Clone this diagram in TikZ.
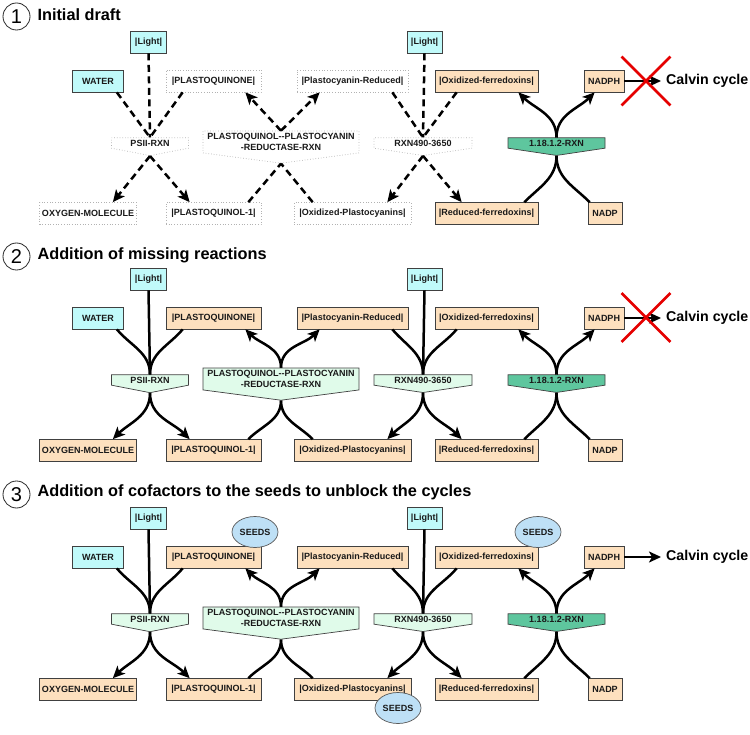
\documentclass[tikz,border=0pt]{standalone}
\usepackage{fontspec}
\setmainfont{Liberation Sans}
\usetikzlibrary{arrows.meta,shapes.symbols,shapes.geometric,shapes.misc}

\definecolor{lightcyan}{RGB}{192,250,250}
\definecolor{peach}{RGB}{253,224,190}
\definecolor{mint}{RGB}{224,251,234}
\definecolor{enzteal}{RGB}{94,198,158}
\definecolor{seedblue}{RGB}{190,224,246}

\begin{document}
\begin{tikzpicture}[
    x=1pt, y=-1pt,
    font=\fontsize{9}{10.8}\selectfont\bfseries,
    cpd/.style={
        draw=black!75,
        fill=#1,
        line width=0.7pt,
        minimum height=22pt,
        inner sep=2pt,
        text=black!90
    },
    newcpd/.style={
        cpd=white,
        draw=gray!60,
        dotted
    },
    rxn/.style={
        signal,
        signal to=south,
        draw=black!75,
        fill=#1,
        line width=0.7pt,
        minimum height=14pt,
        inner sep=2pt,
        text=black!90
    },
    newrxn/.style={
        rxn=white,
        draw=gray!60,
        dotted
    },
    flow/.style={line width=2.5pt, draw=black},
    prod/.style={flow, -{Stealth[length=12pt, width=11pt, inset=3pt]}},
    draft/.style={dash pattern=on 7pt off 4.5pt},
    seed/.style={
        ellipse,
        draw=black!65,
        fill=seedblue,
        line width=0.7pt,
        minimum width=46pt,
        minimum height=31pt,
        inner sep=0pt,
        text=black!90
    },
    blocked/.style={
        cross out,
        draw=red!90!black,
        line width=2.8pt,
        minimum width=46pt,
        minimum height=46pt
    },
    calvin/.style={anchor=west, inner sep=5pt, font=\fontsize{14.2}{16}\selectfont\bfseries},
    title/.style={anchor=west, font=\fontsize{16.3}{19}\selectfont\bfseries},
    num/.style={circle, draw=black!85, line width=0.8pt, minimum size=27pt, inner sep=0pt, font=\fontsize{20}{20}\selectfont}
]
\useasboundingbox (0,0) rectangle (750,735);

% panel 1: initial draft
\begin{scope}[name prefix=a-]
\node[num] (num) at (16.5,16.5) {1};
\node[title] (title) at (34,15) {Initial draft};

\node[cpd=lightcyan, minimum width=36pt] (light) at (148.5,42) {|Light|};
\node[cpd=lightcyan, minimum width=51pt] (water) at (98,81) {WATER};
\node[newcpd, minimum width=95pt] (pq) at (213.5,81) {|PLASTOQUINONE|};
\node[newcpd, minimum width=111pt] (pcr) at (352.5,81) {|Plastocyanin-Reduced|};
\node[cpd=lightcyan, minimum width=35pt] (light2) at (424.5,42) {|Light|};
\node[cpd=peach, minimum width=103pt] (oxf) at (486.5,81) {|Oxidized-ferredoxins|};
\node[cpd=peach, minimum width=40pt] (nadph) at (604,81) {NADPH};
\node[calvin] (calvin) at (661,81) {Calvin cycle};

\node[newrxn, minimum width=77pt, signal pointer angle=158] (psii) at (150,143) {PSII-RXN};
\node[newrxn, minimum width=156pt, minimum height=28pt, signal pointer angle=165, align=center, font=\fontsize{9}{11.5}\selectfont\bfseries] (pqrxn) at (281,142) {PLASTOQUINOL-{}-PLASTOCYANIN\\-REDUCTASE-RXN};
\node[newrxn, minimum width=98pt, signal pointer angle=163] (rxn490) at (423,143) {RXN490-3650};
\node[rxn=enzteal, minimum width=97pt, signal pointer angle=163] (fdrxn) at (556.5,143) {1.18.1.2-RXN};

\node[newcpd, minimum width=97pt] (oxy) at (88,213.5) {OXYGEN-MOLECULE};
\node[newcpd, minimum width=95pt] (pq1) at (213.5,213.5) {|PLASTOQUINOL-1|};
\node[newcpd, minimum width=117pt] (oxpc) at (352.5,213.5) {|Oxidized-Plastocyanins|};
\node[cpd=peach, minimum width=103pt] (redf) at (486.5,213.5) {|Reduced-ferredoxins|};
\node[cpd=peach, minimum width=34pt] (nadp) at (605,213.5) {NADP};

\draw[flow, draft] (light.south) -- (psii.north);
\draw[flow, draft] ([xshift=-7pt]water.south east) -- (psii.north);
\draw[flow, draft] ([xshift=17pt]pq.south west) -- (psii.north);
\draw[prod, draft] (psii.south) -- ([xshift=-24pt]oxy.north east);
\draw[prod, draft] (psii.south) -- ([xshift=24pt]pq1.north west);
\draw[prod, draft] (pqrxn.north) -- ([xshift=-16pt]pq.south east);
\draw[prod, draft] (pqrxn.north) -- ([xshift=23pt]pcr.south west);
\draw[flow, draft] ([xshift=-13pt]pq1.north east) -- (pqrxn.south);
\draw[flow, draft] ([xshift=19pt]oxpc.north west) -- (pqrxn.south);
\draw[flow, draft] (light2.south) -- (rxn490.north);
\draw[flow, draft] ([xshift=-16pt]pcr.south east) -- (rxn490.north);
\draw[flow, draft] ([xshift=22pt]oxf.south west) -- (rxn490.north);
\draw[prod, draft] (rxn490.south) -- ([xshift=-24pt]oxpc.north east);
\draw[prod, draft] (rxn490.south) -- ([xshift=27pt]redf.north west);
\draw[prod] (fdrxn.north) to[out=90, in=-45] ([xshift=-20pt]oxf.south east);
\draw[prod] (fdrxn.north) to[out=90, in=-135] ([xshift=11pt]nadph.south west);
\draw[flow] ([xshift=-14pt]redf.north east) to[out=45, in=-90] (fdrxn.south);
\draw[flow] ([xshift=2pt]nadp.north west) to[out=135, in=-90] (fdrxn.south);
\draw[prod] (nadph) -- (calvin);

\node[blocked] (block) at (646,81) {};
\end{scope}

% panel 2: missing reactions added
\begin{scope}[shift={(0,237)}, name prefix=b-]
\node[num] (num) at (16.5,19.5) {2};
\node[title] (title) at (34,18) {Addition of missing reactions};

\node[cpd=lightcyan, minimum width=36pt] (light) at (148.5,42) {|Light|};
\node[cpd=lightcyan, minimum width=51pt] (water) at (98,81) {WATER};
\node[cpd=peach, minimum width=95pt] (pq) at (213.5,81) {|PLASTOQUINONE|};
\node[cpd=peach, minimum width=111pt] (pcr) at (352.5,81) {|Plastocyanin-Reduced|};
\node[cpd=lightcyan, minimum width=35pt] (light2) at (424.5,42) {|Light|};
\node[cpd=peach, minimum width=103pt] (oxf) at (486.5,81) {|Oxidized-ferredoxins|};
\node[cpd=peach, minimum width=40pt] (nadph) at (604,81) {NADPH};
\node[calvin] (calvin) at (661,81) {Calvin cycle};

\node[rxn=mint, minimum width=77pt, signal pointer angle=158] (psii) at (150,143) {PSII-RXN};
\node[rxn=mint, minimum width=156pt, minimum height=28pt, signal pointer angle=165, align=center, font=\fontsize{9}{11.5}\selectfont\bfseries] (pqrxn) at (281,142) {PLASTOQUINOL-{}-PLASTOCYANIN\\-REDUCTASE-RXN};
\node[rxn=mint, minimum width=98pt, signal pointer angle=163] (rxn490) at (423,143) {RXN490-3650};
\node[rxn=enzteal, minimum width=97pt, signal pointer angle=163] (fdrxn) at (556.5,143) {1.18.1.2-RXN};

\node[cpd=peach, minimum width=97pt] (oxy) at (88,213.5) {OXYGEN-MOLECULE};
\node[cpd=peach, minimum width=95pt] (pq1) at (213.5,213.5) {|PLASTOQUINOL-1|};
\node[cpd=peach, minimum width=117pt] (oxpc) at (352.5,213.5) {|Oxidized-Plastocyanins|};
\node[cpd=peach, minimum width=103pt] (redf) at (486.5,213.5) {|Reduced-ferredoxins|};
\node[cpd=peach, minimum width=34pt] (nadp) at (605,213.5) {NADP};

\draw[flow] (light.south) -- (psii.north);
\draw[flow] ([xshift=-7pt]water.south east) to[out=-50, in=90] (psii.north);
\draw[flow] ([xshift=17pt]pq.south west) to[out=-130, in=90] (psii.north);
\draw[prod] (psii.south) to[out=-90, in=45] ([xshift=-24pt]oxy.north east);
\draw[prod] (psii.south) to[out=-90, in=135] ([xshift=24pt]pq1.north west);
\draw[prod] (pqrxn.north) to[out=90, in=-45] ([xshift=-16pt]pq.south east);
\draw[prod] (pqrxn.north) to[out=90, in=-135] ([xshift=23pt]pcr.south west);
\draw[flow] ([xshift=-13pt]pq1.north east) to[out=45, in=-90] (pqrxn.south);
\draw[flow] ([xshift=19pt]oxpc.north west) to[out=135, in=-90] (pqrxn.south);
\draw[flow] (light2.south) -- (rxn490.north);
\draw[flow] ([xshift=-16pt]pcr.south east) to[out=-50, in=90] (rxn490.north);
\draw[flow] ([xshift=22pt]oxf.south west) to[out=-130, in=90] (rxn490.north);
\draw[prod] (rxn490.south) to[out=-90, in=45] ([xshift=-24pt]oxpc.north east);
\draw[prod] (rxn490.south) to[out=-90, in=135] ([xshift=27pt]redf.north west);
\draw[prod] (fdrxn.north) to[out=90, in=-45] ([xshift=-20pt]oxf.south east);
\draw[prod] (fdrxn.north) to[out=90, in=-135] ([xshift=11pt]nadph.south west);
\draw[flow] ([xshift=-14pt]redf.north east) to[out=45, in=-90] (fdrxn.south);
\draw[flow] ([xshift=2pt]nadp.north west) to[out=135, in=-90] (fdrxn.south);
\draw[prod] (nadph) -- (calvin);

\node[blocked] (block) at (646,80.5) {};
\end{scope}

% panel 3: cofactors added to the seeds
\begin{scope}[shift={(0,476)}, name prefix=c-]
\node[num] (num) at (16.5,18.5) {3};
\node[title] (title) at (34,16) {Addition of cofactors to the seeds to unblock the cycles};

\node[cpd=lightcyan, minimum width=36pt] (light) at (148.5,42) {|Light|};
\node[cpd=lightcyan, minimum width=51pt] (water) at (98,81) {WATER};
\node[cpd=peach, minimum width=95pt] (pq) at (213.5,81) {|PLASTOQUINONE|};
\node[cpd=peach, minimum width=111pt] (pcr) at (352.5,81) {|Plastocyanin-Reduced|};
\node[cpd=lightcyan, minimum width=35pt] (light2) at (424.5,42) {|Light|};
\node[cpd=peach, minimum width=103pt] (oxf) at (486.5,81) {|Oxidized-ferredoxins|};
\node[cpd=peach, minimum width=40pt] (nadph) at (604,81) {NADPH};
\node[calvin] (calvin) at (661,81) {Calvin cycle};

\node[rxn=mint, minimum width=77pt, signal pointer angle=158] (psii) at (150,143) {PSII-RXN};
\node[rxn=mint, minimum width=156pt, minimum height=28pt, signal pointer angle=165, align=center, font=\fontsize{9}{11.5}\selectfont\bfseries] (pqrxn) at (281,142) {PLASTOQUINOL-{}-PLASTOCYANIN\\-REDUCTASE-RXN};
\node[rxn=mint, minimum width=98pt, signal pointer angle=163] (rxn490) at (423,143) {RXN490-3650};
\node[rxn=enzteal, minimum width=97pt, signal pointer angle=163] (fdrxn) at (556.5,143) {1.18.1.2-RXN};

\node[cpd=peach, minimum width=97pt] (oxy) at (88,213.5) {OXYGEN-MOLECULE};
\node[cpd=peach, minimum width=95pt] (pq1) at (213.5,213.5) {|PLASTOQUINOL-1|};
\node[cpd=peach, minimum width=117pt] (oxpc) at (352.5,213.5) {|Oxidized-Plastocyanins|};
\node[cpd=peach, minimum width=103pt] (redf) at (486.5,213.5) {|Reduced-ferredoxins|};
\node[cpd=peach, minimum width=34pt] (nadp) at (605,213.5) {NADP};

\node[seed] (seedpq) at (255,56) {SEEDS};
\node[seed] (seedoxf) at (538,56) {SEEDS};
\node[seed] (seedoxpc) at (398,232) {SEEDS};

\draw[flow] (light.south) -- (psii.north);
\draw[flow] ([xshift=-7pt]water.south east) to[out=-50, in=90] (psii.north);
\draw[flow] ([xshift=17pt]pq.south west) to[out=-130, in=90] (psii.north);
\draw[prod] (psii.south) to[out=-90, in=45] ([xshift=-24pt]oxy.north east);
\draw[prod] (psii.south) to[out=-90, in=135] ([xshift=24pt]pq1.north west);
\draw[prod] (pqrxn.north) to[out=90, in=-45] ([xshift=-16pt]pq.south east);
\draw[prod] (pqrxn.north) to[out=90, in=-135] ([xshift=23pt]pcr.south west);
\draw[flow] ([xshift=-13pt]pq1.north east) to[out=45, in=-90] (pqrxn.south);
\draw[flow] ([xshift=19pt]oxpc.north west) to[out=135, in=-90] (pqrxn.south);
\draw[flow] (light2.south) -- (rxn490.north);
\draw[flow] ([xshift=-16pt]pcr.south east) to[out=-50, in=90] (rxn490.north);
\draw[flow] ([xshift=22pt]oxf.south west) to[out=-130, in=90] (rxn490.north);
\draw[prod] (rxn490.south) to[out=-90, in=45] ([xshift=-24pt]oxpc.north east);
\draw[prod] (rxn490.south) to[out=-90, in=135] ([xshift=27pt]redf.north west);
\draw[prod] (fdrxn.north) to[out=90, in=-45] ([xshift=-20pt]oxf.south east);
\draw[prod] (fdrxn.north) to[out=90, in=-135] ([xshift=11pt]nadph.south west);
\draw[flow] ([xshift=-14pt]redf.north east) to[out=45, in=-90] (fdrxn.south);
\draw[flow] ([xshift=2pt]nadp.north west) to[out=135, in=-90] (fdrxn.south);
\draw[prod] (nadph) -- (calvin);
\end{scope}

\end{tikzpicture}
\end{document}
